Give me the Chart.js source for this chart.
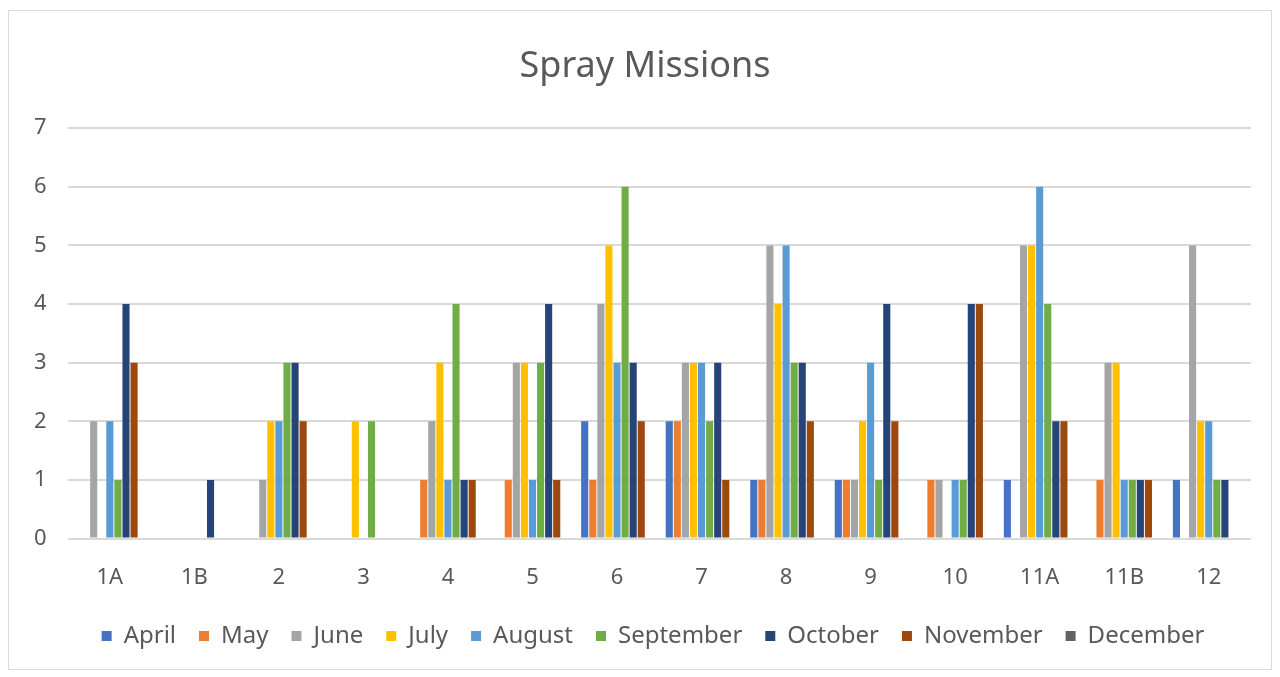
<!DOCTYPE html>
<html>
<head>
<meta charset="utf-8">
<title>Spray Missions</title>
<script src="https://cdn.jsdelivr.net/npm/chart.js@4/dist/chart.umd.min.js"></script>
<style>
  html, body { margin: 0; padding: 0; background: #fff; }
  #box {
    position: absolute; left: 8px; top: 10px;
    width: 1262px; height: 658px;
    border: 1px solid #d9d9d9;
  }
</style>
</head>
<body>
<div id="box"><canvas id="chart"></canvas></div>
<script>
const categories = ['1A', '1B', '2', '3', '4', '5', '6', '7', '8', '9', '10', '11A', '11B', '12'];
const months = ['April', 'May', 'June', 'July', 'August', 'September', 'October', 'November', 'December'];
const colors = ['#4472C4', '#ED7D31', '#A5A5A5', '#FFC000', '#5B9BD5', '#70AD47', '#264478', '#9E480E', '#636363'];

const april     = [0, 0, 0, 0, 0, 0, 2, 2, 1, 1, 0, 1, 0, 1];
const may       = [0, 0, 0, 0, 1, 1, 1, 2, 1, 1, 1, 0, 1, 0];
const june      = [2, 0, 1, 0, 2, 3, 4, 3, 5, 1, 1, 5, 3, 5];
const july      = [0, 0, 2, 2, 3, 3, 5, 3, 4, 2, 0, 5, 3, 2];
const august    = [2, 0, 2, 0, 1, 1, 3, 3, 5, 3, 1, 6, 1, 2];
const september = [1, 0, 3, 2, 4, 3, 6, 2, 3, 1, 1, 4, 1, 1];
const october   = [4, 1, 3, 0, 1, 4, 3, 3, 3, 4, 4, 2, 1, 1];
const november  = [3, 0, 2, 0, 1, 1, 2, 1, 2, 2, 4, 2, 1, 0];
const december  = [0, 0, 0, 0, 0, 0, 0, 0, 0, 0, 0, 0, 0, 0];

const yTicks = [0, 1, 2, 3, 4, 5, 6, 7];

const series = [april, may, june, july, august, september, october, november, december];

const datasets = series.map(function (vals, i) {
    return {
        label: months[i],
        data: vals,
        backgroundColor: colors[i],
        borderWidth: 0,
        categoryPercentage: 0.86,
        barPercentage: 0.88
    };
});

// nudge legend and title a bit so they sit where Excel put them
const blockShift = {
    id: 'blockShift',
    afterLayout: function (chart) {
        const lg = chart.legend;
        lg.left += 21;
        lg.right += 21;
        lg.top -= 8;
        lg.bottom -= 8;
        const tb = chart.titleBlock;
        tb.left += 13;
        tb.right += 13;
    }
};

const ctx = document.getElementById('chart').getContext('2d');
new Chart(ctx, {
    type: 'bar',
    data: { labels: categories, datasets: datasets },
    plugins: [blockShift],
    options: {
        responsive: true,
        maintainAspectRatio: false,
        animation: false,
        layout: { padding: { left: 4, right: 20, top: 0, bottom: 3 } },
        plugins: {
            title: {
                display: true,
                text: 'Spray Missions',
                color: '#595959',
                font: { family: 'Noto Sans', size: 36, weight: 'normal' },
                padding: { top: 34, bottom: 40 }
            },
            legend: {
                position: 'bottom',
                labels: {
                    color: '#595959',
                    font: { family: 'Noto Sans', size: 24 },
                    boxWidth: 10,
                    boxHeight: 10,
                    padding: 23
                }
            },
            tooltip: { enabled: false }
        },
        scales: {
            x: {
                grid: { display: false },
                border: { display: false },
                ticks: {
                    color: '#595959',
                    font: { family: 'Noto Sans', size: 22 },
                    padding: 18
                }
            },
            y: {
                min: 0,
                max: 7,
                afterBuildTicks: function (axis) {
                    axis.ticks = yTicks.map(function (v) { return { value: v }; });
                },
                grid: { color: '#d9d9d9', lineWidth: 2, drawTicks: false },
                border: { display: false },
                ticks: {
                    color: '#595959',
                    font: { family: 'Noto Sans', size: 22 },
                    padding: 21
                }
            }
        }
    }
});
</script>
</body>
</html>
